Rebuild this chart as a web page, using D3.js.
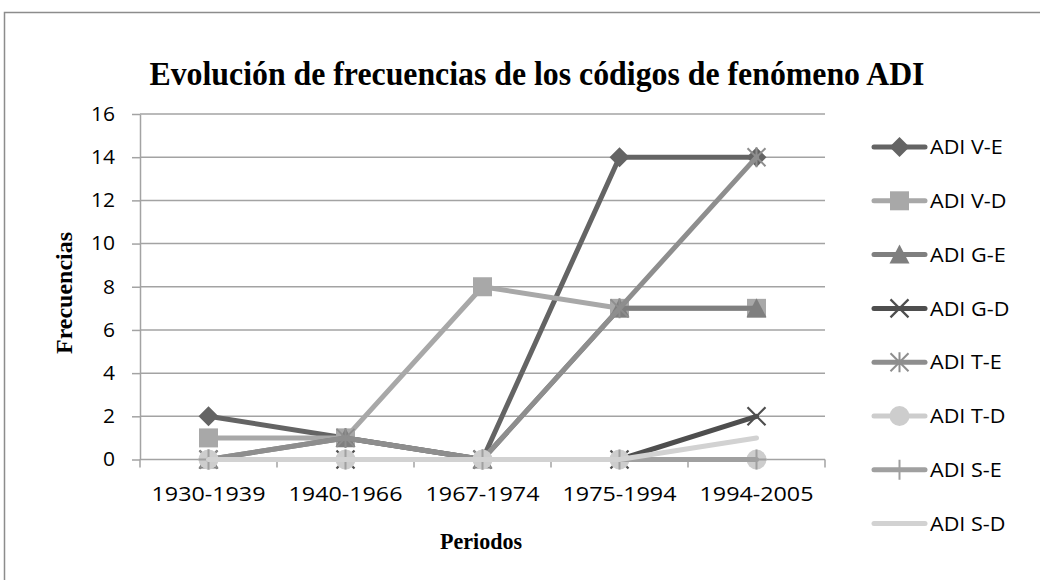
<!DOCTYPE html>
<html><head><meta charset="utf-8">
<script src="https://cdn.jsdelivr.net/npm/d3@7"></script>
<style>body{margin:0;background:#fff}svg{display:block}</style>
</head><body>
<svg id="chart" width="1040" height="580"></svg>
<script>
const categories = ["1930-1939","1940-1966","1967-1974","1975-1994","1994-2005"];
const seriesNames = ["ADI V-E","ADI V-D","ADI G-E","ADI G-D","ADI T-E","ADI T-D","ADI S-E","ADI S-D"];
const vVE = [2,1,0,14,14];
const vVD = [1,1,8,7,7];
const vGE = [0,1,0,7,7];
const vGD = [0,0,0,0,2];
const vTE = [0,1,0,7,14];
const vTD = [0,0,0,0,0];
const vSE = [0,0,0,0,0];
const vSD = [0,0,0,0,1];
const seriesValues = [vVE,vVD,vGE,vGD,vTE,vTD,vSE,vSD];
const seriesColors = ["#646464","#a8a8a8","#7f7f7f","#4e4e4e","#8e8e8e","#cdcdcd","#a0a0a0","#d2d2d2"];
const seriesMarkers = ["diamond","square","triangle","x","asterisk","circle","plus","none"];
const yTicks = [0,2,4,6,8,10,12,14,16];
const title = "Evolución de frecuencias de los códigos de fenómeno ADI";
const xTitle = "Periodos";
const yTitle = "Frecuencias";

const svg = d3.select("#chart");
const pLeft = 140, pRight = 825, pTop = 114, pBottom = 459.5;
const x = d3.scaleBand().domain(categories).range([pLeft, pRight]).padding(0);
const y = d3.scaleLinear().domain([0, 16]).range([pBottom, pTop]);
const grid = "#a3a3a3";
const sans = "'Open Sans', sans-serif";
const serif = "'Liberation Serif', 'Times New Roman', serif";

function fitWidth(sel, w) {
  sel.attr("textLength", w).attr("lengthAdjust","spacingAndGlyphs");
}
function stretch(sel, k) {
  sel.each(function(){ const L = this.getComputedTextLength(); d3.select(this).attr("textLength", L*k).attr("lengthAdjust","spacingAndGlyphs"); });
}

// border
svg.append("rect").attr("x",4.5).attr("y",12.5).attr("width",1100).attr("height",700)
  .attr("fill","none").attr("stroke","#8c8c8c").attr("stroke-width",1.5);

// title
svg.append("text").attr("x",537).attr("y",85).attr("text-anchor","middle")
  .attr("font-family",serif).attr("font-weight","bold").attr("font-size",34).attr("fill","#000")
  .text(title).call(fitWidth, 775);

// gridlines
svg.append("g").selectAll("line").data(yTicks.filter(d=>d>0)).join("line")
  .attr("x1",pLeft).attr("x2",pRight).attr("y1",d=>y(d)).attr("y2",d=>y(d))
  .attr("stroke",grid).attr("stroke-width",1.5);

// y axis
const yAxis = svg.append("g").attr("transform",`translate(${pLeft},0)`)
  .call(d3.axisLeft(y).tickValues(yTicks).tickSize(8).tickPadding(17).tickSizeOuter(0));
yAxis.select(".domain").attr("stroke",grid).attr("stroke-width",1.5);
yAxis.selectAll(".tick line").attr("stroke",grid).attr("stroke-width",1.5);
yAxis.selectAll("text").attr("font-family",sans).attr("font-size",20).attr("fill","#000").call(stretch,1.05);

// x axis
const xAxis = svg.append("g").attr("transform",`translate(0,${pBottom})`)
  .call(d3.axisBottom(x).tickSize(0).tickPadding(27));
xAxis.select(".domain").remove();
xAxis.selectAll("text").attr("font-family",sans).attr("font-size",20).attr("fill","#000").call(fitWidth,114);
svg.append("line").attr("x1",pLeft).attr("x2",pRight).attr("y1",pBottom).attr("y2",pBottom)
  .attr("stroke",grid).attr("stroke-width",1.5);
const bounds = categories.map(c=>x(c)).concat([x(categories[categories.length-1])+x.bandwidth()]);
svg.append("g").selectAll("line").data(bounds).join("line")
  .attr("x1",d=>d).attr("x2",d=>d).attr("y1",pBottom).attr("y2",pBottom+8)
  .attr("stroke",grid).attr("stroke-width",1.5);

// axis titles
svg.append("text").attr("x",481).attr("y",549).attr("text-anchor","middle")
  .attr("font-family",serif).attr("font-weight","bold").attr("font-size",24).text(xTitle).call(fitWidth,82);
svg.append("text").attr("transform","translate(72,293) rotate(-90)").attr("text-anchor","middle")
  .attr("font-family",serif).attr("font-weight","bold").attr("font-size",24).text(yTitle).call(fitWidth,122);

function drawMarker(g, type, cx, cy, color) {
  if (type === "diamond") {
    g.append("path").attr("d",`M${cx},${cy-10}L${cx+10},${cy}L${cx},${cy+10}L${cx-10},${cy}Z`).attr("fill",color);
  } else if (type === "square") {
    g.append("rect").attr("x",cx-9.5).attr("y",cy-9.5).attr("width",19).attr("height",19).attr("fill",color);
  } else if (type === "triangle") {
    g.append("path").attr("d",`M${cx},${cy-10}L${cx+10},${cy+9}L${cx-10},${cy+9}Z`).attr("fill",color);
  } else if (type === "x") {
    g.append("path").attr("d",`M${cx-9},${cy-9}L${cx+9},${cy+9}M${cx-9},${cy+9}L${cx+9},${cy-9}`).attr("stroke",color).attr("stroke-width",2.2);
  } else if (type === "asterisk") {
    g.append("path").attr("d",`M${cx-9},${cy-9}L${cx+9},${cy+9}M${cx-9},${cy+9}L${cx+9},${cy-9}M${cx},${cy-10}L${cx},${cy+10}`).attr("stroke",color).attr("stroke-width",2);
  } else if (type === "circle") {
    g.append("circle").attr("cx",cx).attr("cy",cy).attr("r",10).attr("fill",color);
  } else if (type === "plus") {
    g.append("path").attr("d",`M${cx},${cy-10}L${cx},${cy+10}M${cx-10},${cy}L${cx+10},${cy}`).attr("stroke",color).attr("stroke-width",2);
  }
}

const line = d3.line().x((d,i)=>x(categories[i])+x.bandwidth()/2).y(d=>y(d));
seriesValues.forEach((vals, si) => {
  const g = svg.append("g");
  g.append("path").datum(vals).attr("d",line).attr("fill","none")
    .attr("stroke",seriesColors[si]).attr("stroke-width",5).attr("stroke-linejoin","round").attr("stroke-linecap","round");
  vals.forEach((v,i)=> drawMarker(g, seriesMarkers[si], x(categories[i])+x.bandwidth()/2, y(v), seriesColors[si]));
});

// legend
const leg = svg.append("g");
seriesNames.forEach((name, i) => {
  const ly = 147 + i*53.8;
  leg.append("line").attr("x1",874).attr("x2",925).attr("y1",ly).attr("y2",ly)
    .attr("stroke",seriesColors[i]).attr("stroke-width",5).attr("stroke-linecap","round");
  drawMarker(leg, seriesMarkers[i], 899.5, ly, seriesColors[i]);
  leg.append("text").attr("x",930).attr("y",ly).attr("dy","0.36em")
    .attr("font-family",sans).attr("font-size",20).attr("fill","#000").text(name).call(stretch,1.08);
});
</script>
</body></html>
